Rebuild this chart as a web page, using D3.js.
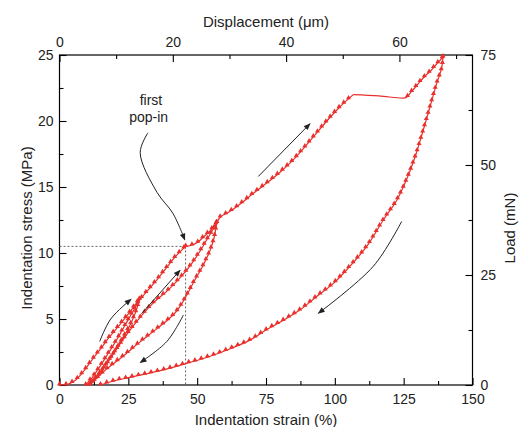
<!DOCTYPE html>
<html>
<head>
<meta charset="utf-8">
<script src="https://cdn.jsdelivr.net/npm/d3@7"></script>
<style>
  body { margin: 0; background: #fff; }
  svg { font-family: "Liberation Sans", Arial, sans-serif; }
  .axis path { display: none; }
  .axis line { stroke: #000; stroke-width: 1.1; }
  .axis text { font-size: 14px; fill: #222; }
  .label { font-size: 15px; fill: #222; }
</style>
</head>
<body>
<div id="chart"></div>
<script>
// strain (%) , stress (MPa), in drawing order
let load1 = [[0,0],[3,0.05],[6,0.4],[9,1.1],[12,1.95],[15,2.75],[18,3.6],[22,4.6],[26,5.65],[29,6.5]]
let unload1 = [[29,6.5],[27.8,5.6],[26,4.7],[23,3.55],[20,2.5],[17,1.55],[14,0.75],[11.5,0.2],[9.5,0]]
let reload2 = [[9.5,0],[12,0.6],[15,1.5],[18,2.5],[21,3.5],[24,4.6],[27,5.7],[29.2,6.45],[32,7.15],[35.3,7.95],[38.9,8.9],[42,9.7],[45.8,10.5]]
let popIn = [[45.8,10.5],[47.3,10.55],[49.8,10.75],[52.5,11.25],[55,11.75],[57.1,12.3]]
let unload2 = [[57.1,12.3],[56.2,11.2],[54.7,10.2],[52,9],[49,7.9],[46.2,6.8],[43.8,5.95],[41.3,5.3],[35.3,4.25],[29.2,3.25],[23.2,2.2],[17.1,1.2],[13,0.4],[11,0]]
let reload3 = [[11,0],[14,0.7],[17,1.6],[20,2.5],[24,3.7],[29.2,5.1],[34,6.2],[40,7.3],[46.2,8.7],[50,9.8],[53.5,11.0],[55.8,11.8],[57.1,12.3]]
let load3 = [[57.1,12.3],[58.5,12.75],[60.7,13.0],[63,13.3],[66.8,13.9],[70,14.45],[75.3,15.3],[80,16.1],[84.9,17.05],[91,18.5],[97.1,20.0],[102,21.1],[106.7,22.0]]
let hold = [[106.7,22.0],[116,21.9],[125.5,21.75],[126.4,21.85]]
let load4 = [[126.4,21.85],[127.3,22.1],[129,22.5],[131,23.0],[133,23.45],[134.6,23.75],[136.5,24.2],[138.2,24.6],[139.3,24.85]]
let unloadFinal = [[139.3,24.85],[138.8,24.0],[137.0,22.85],[134.6,21.1],[132.1,19.3],[129.5,17.5],[126.5,15.8],[122.5,14.0],[117.6,12.5],[111.6,10.5],[105.5,9.0],[99.5,7.7],[93.4,6.7],[87.4,5.7],[81.3,4.9],[75.3,4.2],[69.2,3.4],[62,2.75],[55,2.2],[46.2,1.64],[37.7,1.14],[26.8,0.63],[20,0.32],[14.7,0]]

let segments = [
  {pts: load1, marks: true}, {pts: unload1, marks: true}, {pts: reload2, marks: true},
  {pts: popIn, marks: true}, {pts: unload2, marks: true}, {pts: reload3, marks: true},
  {pts: load3, marks: true}, {pts: hold, marks: false}, {pts: load4, marks: true},
  {pts: unloadFinal, marks: true}
]

let popInPoint = [45.8, 10.5]

let strainTicks = [0, 25, 50, 75, 100, 125, 150]
let stressTicks = [0, 5, 10, 15, 20, 25]
let dispTicks = [0, 20, 40, 60]
let loadTicks = [0, 25, 50, 75]

let margin = {top: 55, right: 48.5, bottom: 42, left: 59.5},
    W = 521, H = 427,
    width = W - margin.left - margin.right,
    height = H - margin.top - margin.bottom

let xScale = d3.scaleLinear().domain([0, 150]).range([0, width])
let yScale = d3.scaleLinear().domain([0, 25]).range([height, 0])
let dScale = d3.scaleLinear().domain([0, 72.9]).range([0, width])
let lScale = d3.scaleLinear().domain([0, 75]).range([height, 0])

let svg = d3.select("#chart").append("svg")
    .attr("width", W).attr("height", H)
  .append("g")
    .attr("transform", "translate(" + margin.left + "," + margin.top + ")")

// axes, ticks pointing into the plot
function addAxis(axis, ticks, minor, pad, transform) {
  svg.append("g").attr("class", "axis").attr("transform", transform)
    .call(axis.tickValues(minor).tickSize(-4).tickFormat(""))
  svg.append("g").attr("class", "axis").attr("transform", transform)
    .call(axis.tickValues(ticks).tickSize(-7).tickPadding(pad).tickFormat(d3.format("d")))
}
addAxis(d3.axisBottom(xScale), strainTicks, d3.range(12.5, 150, 25), 9, "translate(0," + height + ")")
addAxis(d3.axisLeft(yScale), stressTicks, d3.range(2.5, 25, 5), 6, "translate(0,0)")
addAxis(d3.axisTop(dScale), dispTicks, [10, 30, 50, 70], 8, "translate(0,0)")
addAxis(d3.axisRight(lScale), loadTicks, [12.5, 37.5, 62.5], 8, "translate(" + width + ",0)")

svg.append("rect")
  .attr("width", width).attr("height", height)
  .attr("fill", "none").attr("stroke", "#000").attr("stroke-width", 1.2)

// labels
svg.append("text").attr("class", "label").attr("text-anchor", "middle")
  .attr("x", width / 2).attr("y", height + 40).text("Indentation strain (%)")
svg.append("text").attr("class", "label").attr("text-anchor", "middle")
  .attr("x", width / 2).attr("y", -28).text("Displacement (\u03bcm)")
svg.append("text").attr("class", "label").attr("text-anchor", "middle")
  .attr("transform", "translate(-33," + (height / 2 + 8) + ") rotate(-90)")
  .attr("dy", "0.35em").text("Indentation stress (MPa)")
svg.append("text").attr("class", "label").attr("text-anchor", "middle")
  .attr("transform", "translate(" + (width + 37) + "," + (height / 2 + 8) + ") rotate(-90)")
  .attr("dy", "0.35em").text("Load (mN)")

// dashed guides to the pop-in
let guide = svg.append("g").attr("stroke", "#555").attr("stroke-width", 0.9).attr("stroke-dasharray", "2,2")
guide.append("line").attr("x1", 0).attr("x2", xScale(popInPoint[0]))
  .attr("y1", yScale(popInPoint[1])).attr("y2", yScale(popInPoint[1]))
guide.append("line").attr("x1", xScale(popInPoint[0])).attr("x2", xScale(popInPoint[0]))
  .attr("y1", yScale(popInPoint[1])).attr("y2", height)

// curves
let red = "#e8302c"
let line = d3.line().x(d => xScale(d[0])).y(d => yScale(d[1])).curve(d3.curveCatmullRom.alpha(0.5))
let curves = svg.append("g")
segments.forEach(s => {
  let p = curves.append("path").datum(s.pts)
    .attr("d", line).attr("fill", "none").attr("stroke", red).attr("stroke-width", 1.2)
  if (!s.marks) return
  let node = p.node(), len = node.getTotalLength()
  let tri = d3.symbol().type(d3.symbolTriangle).size(11)
  for (let l = 0; l <= len; l += 6.5) {
    let pt = node.getPointAtLength(l)
    curves.append("path").attr("d", tri).attr("fill", red)
      .attr("transform", "translate(" + pt.x + "," + (pt.y - 1) + ")")
  }
})

// arrows
let defs = svg.append("defs")
defs.append("marker").attr("id", "head").attr("viewBox", "0 0 10 10")
  .attr("refX", 9).attr("refY", 5).attr("markerWidth", 8).attr("markerHeight", 7)
  .attr("markerUnits", "userSpaceOnUse").attr("orient", "auto")
  .append("path").attr("d", "M0,1L10,5L0,9Z").attr("fill", "#222")

let arrowLine = d3.line().x(d => xScale(d[0])).y(d => yScale(d[1])).curve(d3.curveCatmullRom)
let arrows = [
  [[72.2,15.8],[91.0,19.8]],
  [[124.3,12.4],[114,9.0],[94.0,5.43]],
  [[14.6,3.3],[18.6,5.0],[26,6.5]],
  [[29.8,5.4],[43.8,8.7]],
  [[45,5.3],[39,3.3],[29.3,1.7]],
  [[32.1,19.1],[29.3,17.6],[35.4,14.6],[41.2,13.0],[45.5,11.0]]
]
arrows.forEach(a => {
  svg.append("path").datum(a).attr("d", arrowLine)
    .attr("fill", "none").attr("stroke", "#222").attr("stroke-width", 1)
    .attr("marker-end", "url(#head)")
})

svg.append("text").attr("class", "label").attr("text-anchor", "middle")
  .attr("x", xScale(33.2)).attr("y", yScale(21.2)).style("font-size", "14px").text("first")
svg.append("text").attr("class", "label").attr("text-anchor", "middle")
  .attr("x", xScale(32.4)).attr("y", yScale(19.9)).style("font-size", "14px").text("pop-in")
</script>
</body>
</html>
